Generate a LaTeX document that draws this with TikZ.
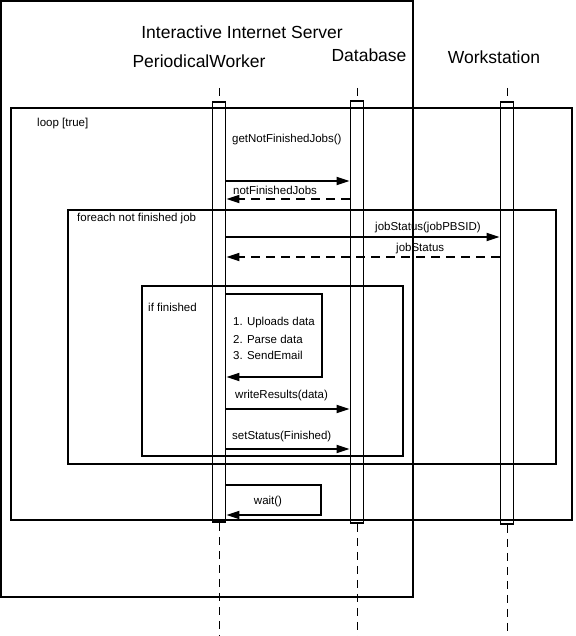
\documentclass[tikz,border=0pt]{standalone}
\usepackage{fontspec}
\setmainfont{Liberation Sans}
\usetikzlibrary{arrows.meta}

\begin{document}
\begin{tikzpicture}[x=1pt,y=-1pt,
    frame/.style={draw,line width=1.8pt},
    bar/.style={draw,line width=1.8pt,minimum width=13pt,inner sep=0pt},
    life/.style={line width=0.9pt,dash pattern=on 8pt off 6pt},
    call/.style={line width=1.8pt,-{Triangle[length=13pt,width=8pt]}},
    reply/.style={call,dash pattern=on 9pt off 6pt},
    big/.style={font=\fontsize{17.5}{20}\selectfont},
    small/.style={font=\fontsize{11.5}{14}\selectfont,inner sep=0pt,anchor=west}]
  \useasboundingbox (0,0) rectangle (575,636);

  % server box and headers
  \draw[frame] (1,1) rectangle (413,597);
  \node[big] (server) at (242,32) {Interactive Internet Server};
  \node[big] (pwname) at (199,61) {PeriodicalWorker};
  \node[big] (dbname) at (369,55) {Database};
  \node[big] (wsname) at (494,57) {Workstation};

  % activation bars
  \node[bar,minimum height=420pt] (pw) at (219,312) {};
  \node[bar,minimum height=422pt] (db) at (357,312) {};
  \node[bar,minimum height=422pt] (ws) at (507,313) {};

  % lifelines
  \coordinate (pwtop) at (219,88);
  \coordinate (dbtop) at (357,88);
  \coordinate (wstop) at (507,88);
  \coordinate (pwend) at (219,636);
  \coordinate (dbend) at (357,636);
  \coordinate (wsend) at (507,636);
  \draw[life]
  (pwtop) to (pw.north)
  (dbtop) to (db.north)
  (wstop) to (ws.north)
  (pw.south) to (pwend)
  (db.south) to (dbend)
  (ws.south) to (wsend);

  % combined fragments
  \draw[frame] (11,108) rectangle (572,520);
  \node[small] (looplbl) at (37,124) {loop [true]};
  \draw[frame] (68,210) rectangle (556,464);
  \node[small] (foreachlbl) at (77,219) {foreach not finished job};
  \draw[frame] (142,286) rectangle (403,456);
  \node[small] (iflbl) at (148,307) {if finished};

  % message levels
  \coordinate (m1) at (0,181);
  \coordinate (m2) at (0,199);
  \coordinate (m3) at (0,237);
  \coordinate (m4) at (0,257);
  \coordinate (m5) at (0,409);
  \coordinate (m6) at (0,449);

  \node[small] (getlbl) at (232,140) {getNotFinishedJobs()};
  \draw[call] (pw.east |- m1) to (db.west |- m1);
  \node[small] (notlbl) at (233,190) {notFinishedJobs};
  \draw[reply] (db.west |- m2) to (pw.east |- m2);

  \node[small] (statlbl) at (375,228) {jobStatus(jobPBSID)};
  \draw[call] (pw.east |- m3) to (ws.west |- m3);
  \node[small] (retlbl) at (396,249) {jobStatus};
  \draw[reply] (ws.west |- m4) to (pw.east |- m4);

  % self call inside if
  \coordinate (s1a) at (322,294);
  \coordinate (s1b) at (322,377);
  \draw[call] (pw.east |- s1a) -- (s1a) -- (s1b) -- (pw.east |- s1b);
  \node[small] (step1) at (233,323) {1. Uploads data};
  \node[small] (step2) at (233,339) {2. Parse data};
  \node[small] (step3) at (233,355) {3. SendEmail};

  \node[small] (writelbl) at (235,396) {writeResults(data)};
  \draw[call] (pw.east |- m5) to (db.west |- m5);
  \node[small] (setlbl) at (232,437) {setStatus(Finished)};
  \draw[call] (pw.east |- m6) to (db.west |- m6);

  % wait
  \coordinate (w1) at (321,485);
  \coordinate (w2) at (321,515);
  \draw[call] (pw.east |- w1) -- (w1) -- (w2) -- (pw.east |- w2);
  \node[small,anchor=center] (waitlbl) at (268,502) {wait()};
\end{tikzpicture}
\end{document}
